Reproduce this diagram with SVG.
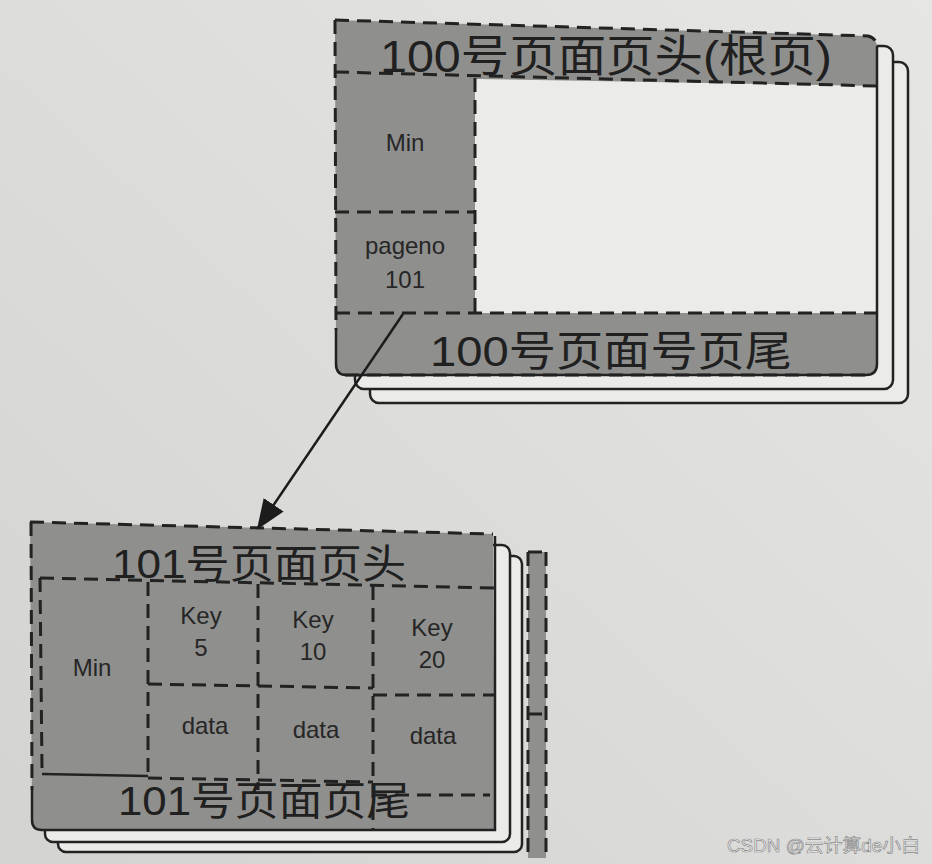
<svg xmlns="http://www.w3.org/2000/svg" width="932" height="864" viewBox="0 0 932 864">
<defs>
<linearGradient id="paper" x1="0" y1="1" x2="1" y2="0">
<stop offset="0" stop-color="#d3d3d1"/>
<stop offset="1" stop-color="#e6e6e4"/>
</linearGradient>
<marker id="arrbig" viewBox="0 0 30 24" refX="28" refY="12" markerWidth="30" markerHeight="24" markerUnits="userSpaceOnUse" orient="auto">
<path d="M0,0 L30,12 L0,24 Z" fill="#1c1c1c"/>
</marker>
</defs>
<style>
.gray{fill:#8f8f8d}
.white{fill:#ebebe9}
.back{fill:#ebebe9;stroke:#222;stroke-width:2.5}
.dash{fill:none;stroke:#222;stroke-width:3;stroke-dasharray:14 8}
.solid{fill:none;stroke:#222;stroke-width:2.5}
.big{font-family:"Liberation Sans","Noto Sans CJK SC",sans-serif;fill:#202020}
.small{font-family:"Liberation Sans","Noto Sans CJK SC",sans-serif;font-size:24px;fill:#262626;text-anchor:middle}
.wm{font-family:"Liberation Sans","Noto Sans CJK SC",sans-serif;font-size:18px;fill:#f8f8f8}
</style>
<rect width="932" height="864" fill="url(#paper)"/>

<g id="page100">
<rect class="back" x="370" y="62" width="538" height="341" rx="9"/>
<rect class="back" x="355" y="46" width="538" height="343" rx="9"/>
<path class="gray" d="M335,20 L868,36 Q877,38 877,48 L877,364 Q877,375 866,375 L346,375 Q336,375 336,364 Z"/>
<path class="white" d="M475,79 L877,86 L877,313 L475,313 Z"/>
<path class="solid" d="M877,46 L877,364 Q877,375 866,375 L346,375 Q336,375 336,364 L336,330"/>
<path class="dash" d="M335,20 L868,36 Q877,38 877,48"/>
<path class="dash" d="M335,20 L336,330"/>
<path class="dash" d="M335,72 L877,86"/>
<path class="dash" d="M475,78 L475,313"/>
<path class="dash" d="M335,212 L475,212"/>
<path class="dash" d="M336,313 L877,313"/>
<path class="dash" d="M345,375 L870,375" stroke="#eee"/>
<text class="big" x="380" y="72" font-size="44" textLength="452" lengthAdjust="spacingAndGlyphs">100号页面页头(根页)</text>
<text class="small" x="405" y="151">Min</text>
<text class="small" x="405" y="254">pageno</text>
<text class="small" x="405" y="288">101</text>
<text class="big" x="430" y="366" font-size="42" textLength="362" lengthAdjust="spacingAndGlyphs">100号页面号页尾</text>
</g>

<g id="page101">
<rect x="528" y="552" width="18" height="306" fill="#8f8f8d"/>
<path class="dash" d="M528,552 L528,858 M546,552 L546,858 M528,552 L546,552 M528,714 L546,714"/>
<rect class="back" x="58" y="556" width="464" height="296" rx="8"/>
<rect class="back" x="45" y="545" width="465" height="297" rx="8"/>
<path class="gray" d="M30,522 L493,534 L495,830 L42,830 Q32,830 32,820 Z"/>
<path class="solid" d="M495,536 L495,830 L42,830 Q32,830 32,820 L32,790"/>
<path class="dash" d="M30,522 L493,534"/>
<path class="dash" d="M31,522 L32,790"/>
<path class="dash" d="M40,578 L495,588"/>
<path class="dash" d="M40,578 L42,770"/>
<path class="dash" d="M148,582 L148,774"/>
<path class="dash" d="M258,584 L258,790"/>
<path class="dash" d="M373,586 L373,830"/>
<path class="dash" d="M148,684 L373,688"/>
<path class="dash" d="M373,695 L495,695"/>
<path class="solid" d="M42,774 L148,776"/>
<path class="dash" d="M148,778 L373,782"/>
<path class="dash" d="M373,795 L490,795"/>
<text class="big" x="112" y="578" font-size="40" textLength="294" lengthAdjust="spacingAndGlyphs">101号页面页头</text>
<text class="small" x="92" y="676">Min</text>
<text class="small" x="201" y="624">Key</text>
<text class="small" x="201" y="656">5</text>
<text class="small" x="313" y="628">Key</text>
<text class="small" x="313" y="660">10</text>
<text class="small" x="432" y="636">Key</text>
<text class="small" x="432" y="668">20</text>
<text class="small" x="205" y="734">data</text>
<text class="small" x="316" y="738">data</text>
<text class="small" x="433" y="744">data</text>
<text class="big" x="118" y="815" font-size="40" textLength="292" lengthAdjust="spacingAndGlyphs">101号页面页尾</text>
</g>

<g id="connectors">
<path d="M403,314 L258,528" fill="none" stroke="#1c1c1c" stroke-width="2.5" marker-end="url(#arrbig)"/>
</g>

<text class="wm" x="727" y="852" textLength="193" lengthAdjust="spacingAndGlyphs" stroke="#8a8a8a" stroke-width="0.7">CSDN @云计算de小白</text>
</svg>
